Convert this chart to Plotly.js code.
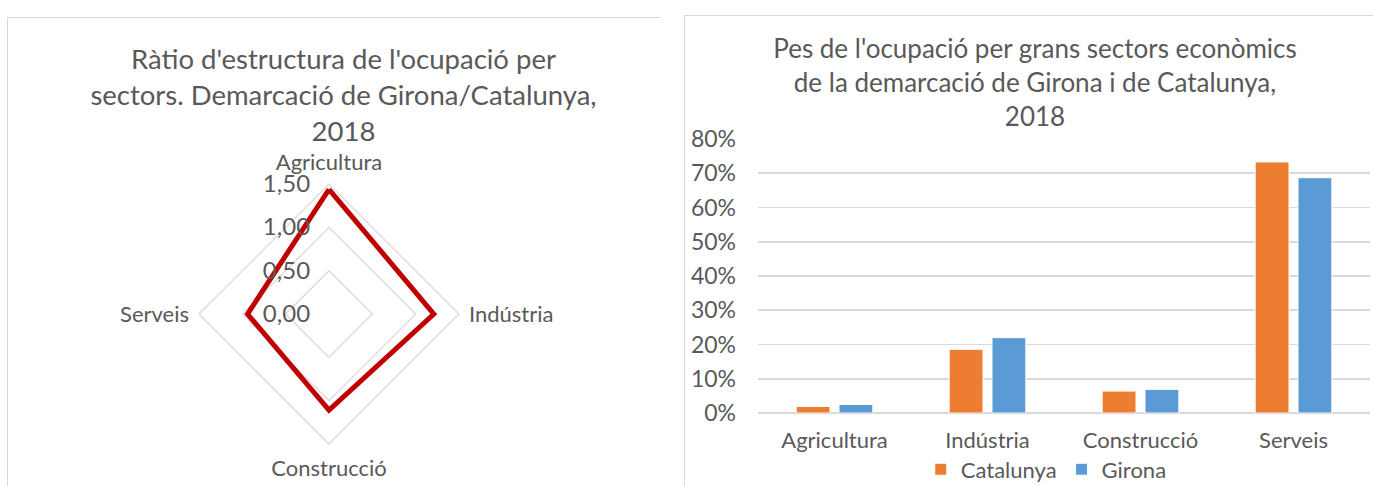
<!DOCTYPE html>
<html>
<head>
<meta charset="utf-8">
<script src="https://cdn.plot.ly/plotly-3.0.1.min.js"></script>
<style>
  html, body { margin:0; padding:0; background:#fff; width:1373px; height:486px; overflow:hidden; }
  #radar { position:absolute; left:7px; top:17px; width:654px; height:480px; border:1px solid #D9D9D9; box-sizing:border-box; }
  #bars { position:absolute; left:684px; top:15px; width:700px; height:480px; border:1px solid #D9D9D9; box-sizing:border-box; }
</style>
</head>
<body>
<div id="radar"></div>
<div id="bars"></div>
<script>
const sectors = ['Agricultura', 'Indústria', 'Construcció', 'Serveis'];
const ratioGironaCatalunya = [1.44, 1.21, 1.11, 0.94];
const catalunya = [1.9, 18.6, 6.4, 73.3];
const girona = [2.5, 22.0, 6.9, 68.7];

const FONT = 'Lato, "Open Sans", sans-serif';
const TXT = '#595959';
const GRID = '#D9D9D9';

// Radar chart
const rClosed = ratioGironaCatalunya.concat([ratioGironaCatalunya[0]]);
const thClosed = sectors.concat([sectors[0]]);
Plotly.newPlot('radar', [{
  type: 'scatterpolar',
  r: rClosed,
  theta: thClosed,
  mode: 'lines',
  line: { color: '#C00000', width: 5 },
  showlegend: false,
  hoverinfo: 'skip'
}], {
  width: 654, height: 480,
  margin: { l: 0, r: 0, t: 0, b: 0, autoexpand: false },
  paper_bgcolor: '#fff',
  separators: ',.',
  font: { family: FONT, color: TXT, size: 22 },
  title: {
    text: "Ràtio d'estructura de l'ocupació per<br>sectors. Demarcació de Girona/Catalunya,<br>2018",
    font: { family: FONT, size: 27.5, color: TXT },
    x: 0.513, xanchor: 'center', xref: 'paper',
    y: 0.893, yanchor: 'middle', yref: 'container'
  },
  polar: {
    domain: { x: [0.292, 0.6896], y: [0.1125, 0.654] },
    gridshape: 'linear',
    bgcolor: 'rgba(0,0,0,0)',
    angularaxis: {
      rotation: 90, direction: 'clockwise',
      showgrid: false, showline: true, linecolor: GRID, linewidth: 1.3,
      ticks: 'outside', ticklen: 5, tickcolor: 'rgba(0,0,0,0)',
      tickfont: { size: 22, color: TXT, family: FONT }
    },
    radialaxis: {
      range: [0, 1.5], tickvals: [0, 0.5, 1, 1.5], tickformat: '.2f',
      angle: 90, side: 'counterclockwise', tickangle: 90,
      showline: false, ticks: 'outside', ticklen: 10, tickcolor: 'rgba(0,0,0,0)',
      gridcolor: GRID, gridwidth: 1.3,
      tickfont: { size: 24, color: TXT, family: FONT }
    }
  }
}, { staticPlot: true });

// Bar chart
Plotly.newPlot('bars', [
  { type: 'bar', name: 'Catalunya', x: sectors, y: catalunya,
    marker: { color: '#ED7D31', line: { color: '#fff', width: 1 } } },
  { type: 'bar', name: 'Girona', x: sectors, y: girona,
    marker: { color: '#5B9BD5', line: { color: '#fff', width: 1 } } }
], {
  width: 700, height: 480,
  margin: { l: 73, r: 15, t: 123, b: 83.3, autoexpand: false },
  paper_bgcolor: '#fff', plot_bgcolor: '#fff',
  font: { family: FONT, color: TXT, size: 22 },
  bargap: 0.44, bargroupgap: 0.21,
  title: {
    text: "Pes de l'ocupació per grans sectors econòmics<br>de la demarcació de Girona i de Catalunya,<br>2018",
    font: { family: FONT, size: 26, color: TXT },
    x: 0.5, xanchor: 'center', xref: 'container',
    y: 0.912, yanchor: 'middle', yref: 'container'
  },
  xaxis: {
    showline: false, ticks: '', showgrid: false,
    tickfont: { size: 22, color: TXT, family: FONT },
    ticklabelstandoff: 12
  },
  yaxis: {
    range: [0, 80], dtick: 10, ticksuffix: '%',
    showgrid: true, gridcolor: GRID, gridwidth: 1.8,
    zeroline: true, zerolinecolor: GRID, zerolinewidth: 1.8,
    showline: false, ticks: '',
    tickfont: { size: 23, color: TXT, family: FONT },
    ticklabelstandoff: 21
  },
  legend: {
    orientation: 'h', x: 0.471, xanchor: 'center', y: -0.206, yanchor: 'middle',
    bgcolor: 'rgba(0,0,0,0)',
    font: { size: 22, color: TXT, family: FONT }, itemwidth: 30, tracegroupgap: 0
  }
}, { staticPlot: true });
</script>
</body>
</html>
